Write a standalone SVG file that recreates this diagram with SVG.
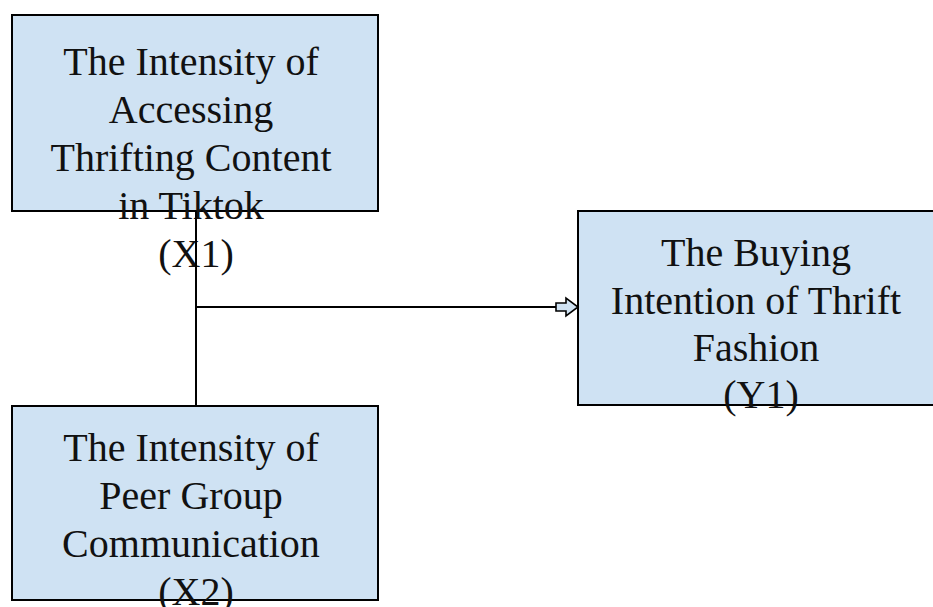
<svg xmlns="http://www.w3.org/2000/svg" width="933" height="607" viewBox="0 0 933 607">
  <style>
    .box { fill: #cfe2f3; stroke: #000; stroke-width: 2; }
    .lbl { font-family: 'Liberation Serif', Tinos, 'Times New Roman', Times, 'DejaVu Serif', serif; font-size: 40px; fill: #111; text-anchor: middle; }
    .wire { fill: none; stroke: #000; stroke-width: 2; }
    .head { fill: #cfe2f3; stroke: #000; stroke-width: 1.6; stroke-linejoin: miter; }
  </style>
  <rect width="933" height="607" fill="#fff"/>

  <g id="x1">
    <rect class="box" x="12" y="15" width="366" height="196"/>
    <text class="lbl" font-family="Liberation Serif, serif">
      <tspan x="196" y="75">The Intensity of</tspan>
      <tspan x="196" y="123">Accessing</tspan>
      <tspan x="196" y="171">Thrifting Content</tspan>
      <tspan x="196" y="219">in Tiktok</tspan>
      <tspan x="196" y="267">(X1)</tspan>
    </text>
  </g>

  <g id="x2">
    <rect class="box" x="12" y="406" width="366" height="194"/>
    <text class="lbl" font-family="Liberation Serif, serif">
      <tspan x="196" y="461">The Intensity of</tspan>
      <tspan x="196" y="509">Peer Group</tspan>
      <tspan x="196" y="557">Communication</tspan>
      <tspan x="196" y="605">(X2)</tspan>
    </text>
  </g>

  <g id="y1">
    <rect class="box" x="578" y="211" width="366" height="194"/>
    <text class="lbl" font-family="Liberation Serif, serif">
      <tspan x="761" y="266">The Buying</tspan>
      <tspan x="761" y="314">Intention of Thrift</tspan>
      <tspan x="761" y="361">Fashion</tspan>
      <tspan x="761" y="408">(Y1)</tspan>
    </text>
  </g>

  <g id="connectors">
    <path class="wire" d="M196 211 V406"/>
    <path class="wire" d="M196 307 H556"/>
    <path class="head" d="M556 303 H566 V298 L578 307 L566 316 V311 H556 Z"/>
  </g>
</svg>
